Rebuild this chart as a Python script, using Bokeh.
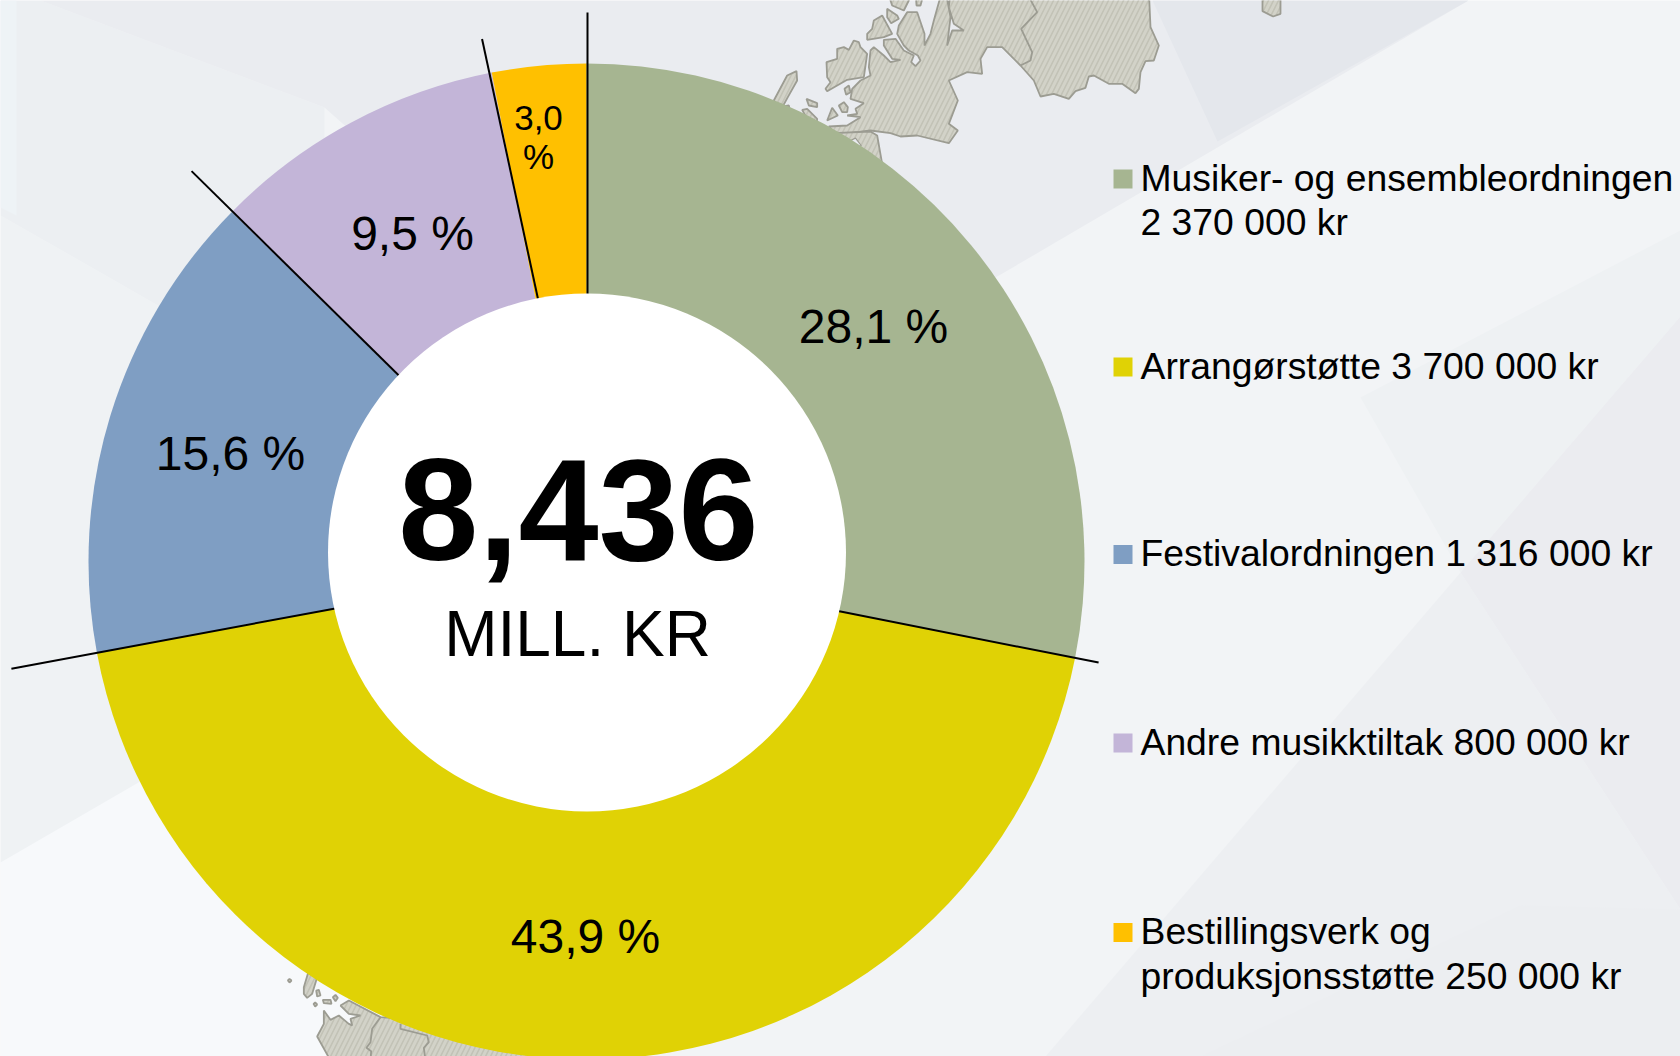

import math
from bokeh.plotting import figure
from bokeh.models import ColumnDataSource
from bokeh.core.properties import value
from bokeh.embed import file_html
from bokeh.resources import INLINE

# ---- data ----
categories = ["Musiker- og ensembleordningen", "Arrangørstøtte", "Festivalordningen",
              "Andre musikktiltak", "Bestillingsverk og produksjonsstøtte"]
amounts = [2370000, 3700000, 1316000, 800000, 250000]
pct_labels = ["28,1 %", "43,9 %", "15,6 %", "9,5 %", "3,0\n%"]
legend_labels = ["Musiker- og ensembleordningen\n2 370 000 kr", "Arrangørstøtte 3 700 000 kr",
                 "Festivalordningen 1 316 000 kr", "Andre musikktiltak 800 000 kr",
                 "Bestillingsverk og\nproduksjonsstøtte 250 000 kr"]
colors = ["#A6B591", "#E0D205", "#7F9EC3", "#C3B5D8", "#FFC000"]
total_label = "8,436"
unit_label = "MILL. KR"

# ---- layout (page pixels of the 1680x1056 picture, y downwards) ----
H = 1056
CX, CY, R = 586, 561, 498
SX = 587
HX, HY, HR = 586.5, 552, 259
pct_pos = [(873, 326), (585, 936), (230, 453), (412, 233), (538, 136.5)]
pct_size = ["48px", "48px", "48px", "48px", "35px"]
legend_y = [178.5, 366.5, 554, 742.5, 932]
legend_text_top = [156, 344.2, 531.7, 720.2, 909.7]
boundary_nudge = [0, 0, 0.42, -0.6, -0.3]          # degrees, as the reference drew the slices
sep_r_in = [240, 240, 240, 240, 265]
sep_r_out = [549, 521, 586, 556, 533]
sep_nudge_in = [0, 0.05, 0.42, -0.6, 0]
sep_nudge_out = [0, 0.05, 0.42, -0.6, -0.74]
FONT = value("Liberation Sans")

def Y(py):
    return H - py

p = figure(width=1680, height=1056, x_range=(0, 1680), y_range=(0, 1056),
           output_backend="svg", toolbar_location=None, min_border=0,
           outline_line_color=None, background_fill_color="#F2F4F6", border_fill_color=None)
p.axis.visible = False
p.grid.visible = False

# ---- background facets ----
facets = [
    ("#ECEFF2", [(0, 0), (40, 0), (324, 107), (324, 400), (0, 215)]),
    ("#EFF2F4", [(0, 215), (324, 400), (324, 700), (0, 862)]),
    ("#F7F9FB", [(0, 862), (138, 782), (420, 640), (420, 1056), (0, 1056)]),
    ("#EEF3F6", [(0, 0), (16, 0), (16, 215), (0, 207)]),
    ("#EAECF0", [(40, 0), (1468, 0), (1002, 273), (700, 440), (324, 107)]),
    ("#E4E7EC", [(1152, 0), (1468, 0), (1217, 141)]),
    ("#EEF1F3", [(1360, 397), (1680, 230), (1680, 316), (1460, 572)]),
    ("#EDEFF2", [(1045, 1056), (1460, 572), (1680, 909), (1680, 1056)]),
    ("#EBECF0", [(1460, 572), (1680, 316), (1680, 909)]),
    ("#ECEEF1", [(1200, 1056), (1520, 905), (1680, 909), (1680, 1056)]),
]
for col, pts in facets:
    p.patch([q[0] for q in pts], [Y(q[1]) for q in pts], fill_color=col, line_color=None)

# ---- map outlines, traced from zooms ----
def zt(pts):  # north map crop, 3x, origin (700,0)
    return [700 + a / 3 for a, b in pts], [Y(b / 3) for a, b in pts]
def zs(pts):  # south map crop, 3x, origin (280,960)
    return [280 + a / 3 for a, b in pts], [Y(960 + b / 3) for a, b in pts]

north = [
    [(725, -30), (700, 60), (690, 100), (672, 135), (672, 100), (650, 35), (620, 35), (595, 75), (590, 100), (610, 135),
     (625, 150), (652, 165), (660, 180), (645, 197), (632, 185), (640, 165), (610, 150), (585, 115), (550, 118), (550, 135),
     (575, 175), (600, 178), (570, 185), (550, 165), (520, 140), (510, 150), (505, 200), (510, 225), (480, 240), (455, 265),
     (450, 295), (490, 308), (465, 325), (470, 340), (440, 345), (480, 350), (440, 375), (385, 378), (400, 395), (430, 400),
     (510, 390), (570, 398), (600, 408), (650, 405), (745, 428), (772, 390),
     (745, 370), (772, 300), (745, 240), (800, 215), (845, 220), (840, 175), (860, 140), (905, 140), (960, 195), (1000, 240),
     (1020, 288), (1060, 280), (1105, 295), (1125, 272), (1155, 262), (1165, 228), (1180, 225), (1225, 250), (1265, 250),
     (1305, 278), (1315, 265), (1320, 215), (1335, 182), (1360, 180), (1375, 135), (1350, 80), (1345, -30),
     (750, -30), (745, 20), (760, 70), (790, 90), (755, 90), (740, 135), (750, 50), (735, -30)],
    [(400, 398), (510, 393), (530, 405), (545, 490), (400, 490)],
    [(560, 25), (590, 45), (595, 55), (572, 68), (560, 50)],
    [(520, 60), (545, 45), (575, 100), (550, 110), (500, 118), (500, 100), (515, 85)],
    [(378, 185), (410, 175), (410, 145), (430, 140), (445, 148), (460, 120), (475, 125), (480, 140), (500, 160), (495, 195),
     (490, 230), (440, 238), (410, 255), (380, 272), (375, 265), (390, 245), (380, 230)],
    [(432, 265), (445, 255), (450, 275), (437, 283)],
    [(415, 315), (430, 305), (442, 320), (440, 335), (425, 335)],
    [(380, 360), (395, 322), (412, 345)],
    [(318, 295), (350, 308), (350, 320), (325, 315)],
    [(220, 300), (260, 225), (288, 212), (290, 240), (262, 290), (240, 330)],
    [(305, 328), (320, 325), (350, 355), (345, 400)],
    [(248, 318), (265, 315), (270, 340)],
    [(560, -30), (575, 15), (610, 30), (640, -30)],
    [(645, -30), (648, 15), (660, 15), (672, -30)],
    [(1686, -30), (1686, 32), (1718, 48), (1740, 40), (1740, -30)],
]
south = [
    [(130, 150), (150, 178), (175, 165), (205, 190), (215, 195), (210, 175), (240, 165), (205, 160), (180, 135), (205, 120),
     (300, 170), (700, 200), (840, 300), (150, 300), (110, 228), (130, 190)],
    [(70, 80), (85, 30), (110, 50), (95, 100), (80, 112), (70, 100)],
    [(107, 90), (115, 88), (120, 105), (110, 108)],
    [(127, 118), (150, 118), (153, 130), (130, 128)],
    [(157, 110), (165, 103), (172, 112), (165, 122)],
    [(99, 130), (104, 126), (110, 132), (104, 138)],
    [(22, 60), (27, 55), (33, 60), (27, 66)],
]
LAND = dict(fill_color="#D2D2C8", line_color="#9C9C92", line_width=1.8, hatch_pattern="right_diagonal_line",
            hatch_color="#C2C2B6", hatch_weight=1.6, hatch_scale=10)
for poly in north:
    xs, ys = zt(poly)
    p.patch(xs, ys, **LAND)
for poly in south:
    xs, ys = zs(poly)
    p.patch(xs, ys, **LAND)
xs, ys = zt([(450, 420), (465, 413), (482, 435), (465, 445)])
p.patch(xs, ys, fill_color="#E9EBEF", line_color="#9C9C92", line_width=1.2)
BORDER = dict(line_color="#9C9C92", line_width=1.8)
xs, ys = zt([(975, -30), (1010, 35), (962, 85), (995, 155), (990, 180), (960, 195)])
p.line(xs, ys, **BORDER)
xs, ys = zs([(300, 170), (275, 205), (270, 245), (258, 262), (272, 272), (270, 300)])
p.line(xs, ys, **BORDER)
xs, ys = zs([(360, 190), (360, 205), (440, 225), (445, 245), (430, 262), (435, 300)])
p.line(xs, ys, **BORDER)

# ---- doughnut ----
total = sum(amounts)
cum = [0]
for a in amounts:
    cum.append(cum[-1] + a)
deg = [c / total * 360 for c in cum]
bounds = [d + n for d, n in zip(deg[:-1], boundary_nudge)] + [360]
start = [math.pi / 2 - math.radians(d) for d in bounds[:-1]]
end = [math.pi / 2 - math.radians(d) for d in bounds[1:]]
src = ColumnDataSource(dict(start=start, end=end, color=colors, cat=categories))
p.wedge(x=CX, y=Y(CY), radius=R, start_angle="start", end_angle="end", direction="clock",
        fill_color="color", line_color=None, source=src)

# separator lines out of the slice boundaries
for i in range(5):
    a0 = math.radians(deg[i] + sep_nudge_in[i])
    a1 = math.radians(deg[i] + sep_nudge_out[i])
    r0, r1 = sep_r_in[i], sep_r_out[i]
    p.line([SX + r0 * math.sin(a0), SX + r1 * math.sin(a1)],
           [Y(CY) + r0 * math.cos(a0), Y(CY) + r1 * math.cos(a1)], line_color="black", line_width=2)

p.circle(x=[HX], y=[Y(HY)], radius=HR, fill_color="white", line_color=None)

# ---- texts ----
for lab, pos, fs in zip(pct_labels, pct_pos, pct_size):
    p.text(x=[pos[0]], y=[Y(pos[1])], text=[lab], text_font=FONT, text_font_size=fs, text_color="black",
           text_align="center", text_baseline="middle", text_line_height=1.01)
p.text(x=[578], y=[Y(509)], text=[total_label], text_font=FONT, text_font_size="144px", text_font_style="bold",
       text_color="black", text_align="center", text_baseline="middle")
p.text(x=[577], y=[Y(633)], text=[unit_label], text_font=FONT, text_font_size="64px", text_color="black",
       text_align="center", text_baseline="middle")

# ---- legend ----
p.rect(x=[1122.5] * 5, y=[Y(v) for v in legend_y], width=19, height=19, fill_color=colors, line_color=None)
for lab, v in zip(legend_labels, legend_text_top):
    p.text(x=[1140], y=[Y(v)], text=[lab], text_font=FONT, text_font_size="37.3px", text_color="black",
           text_align="left", text_baseline="top", text_line_height=1.06)

open("out.html", "w").write(file_html(p, INLINE))
